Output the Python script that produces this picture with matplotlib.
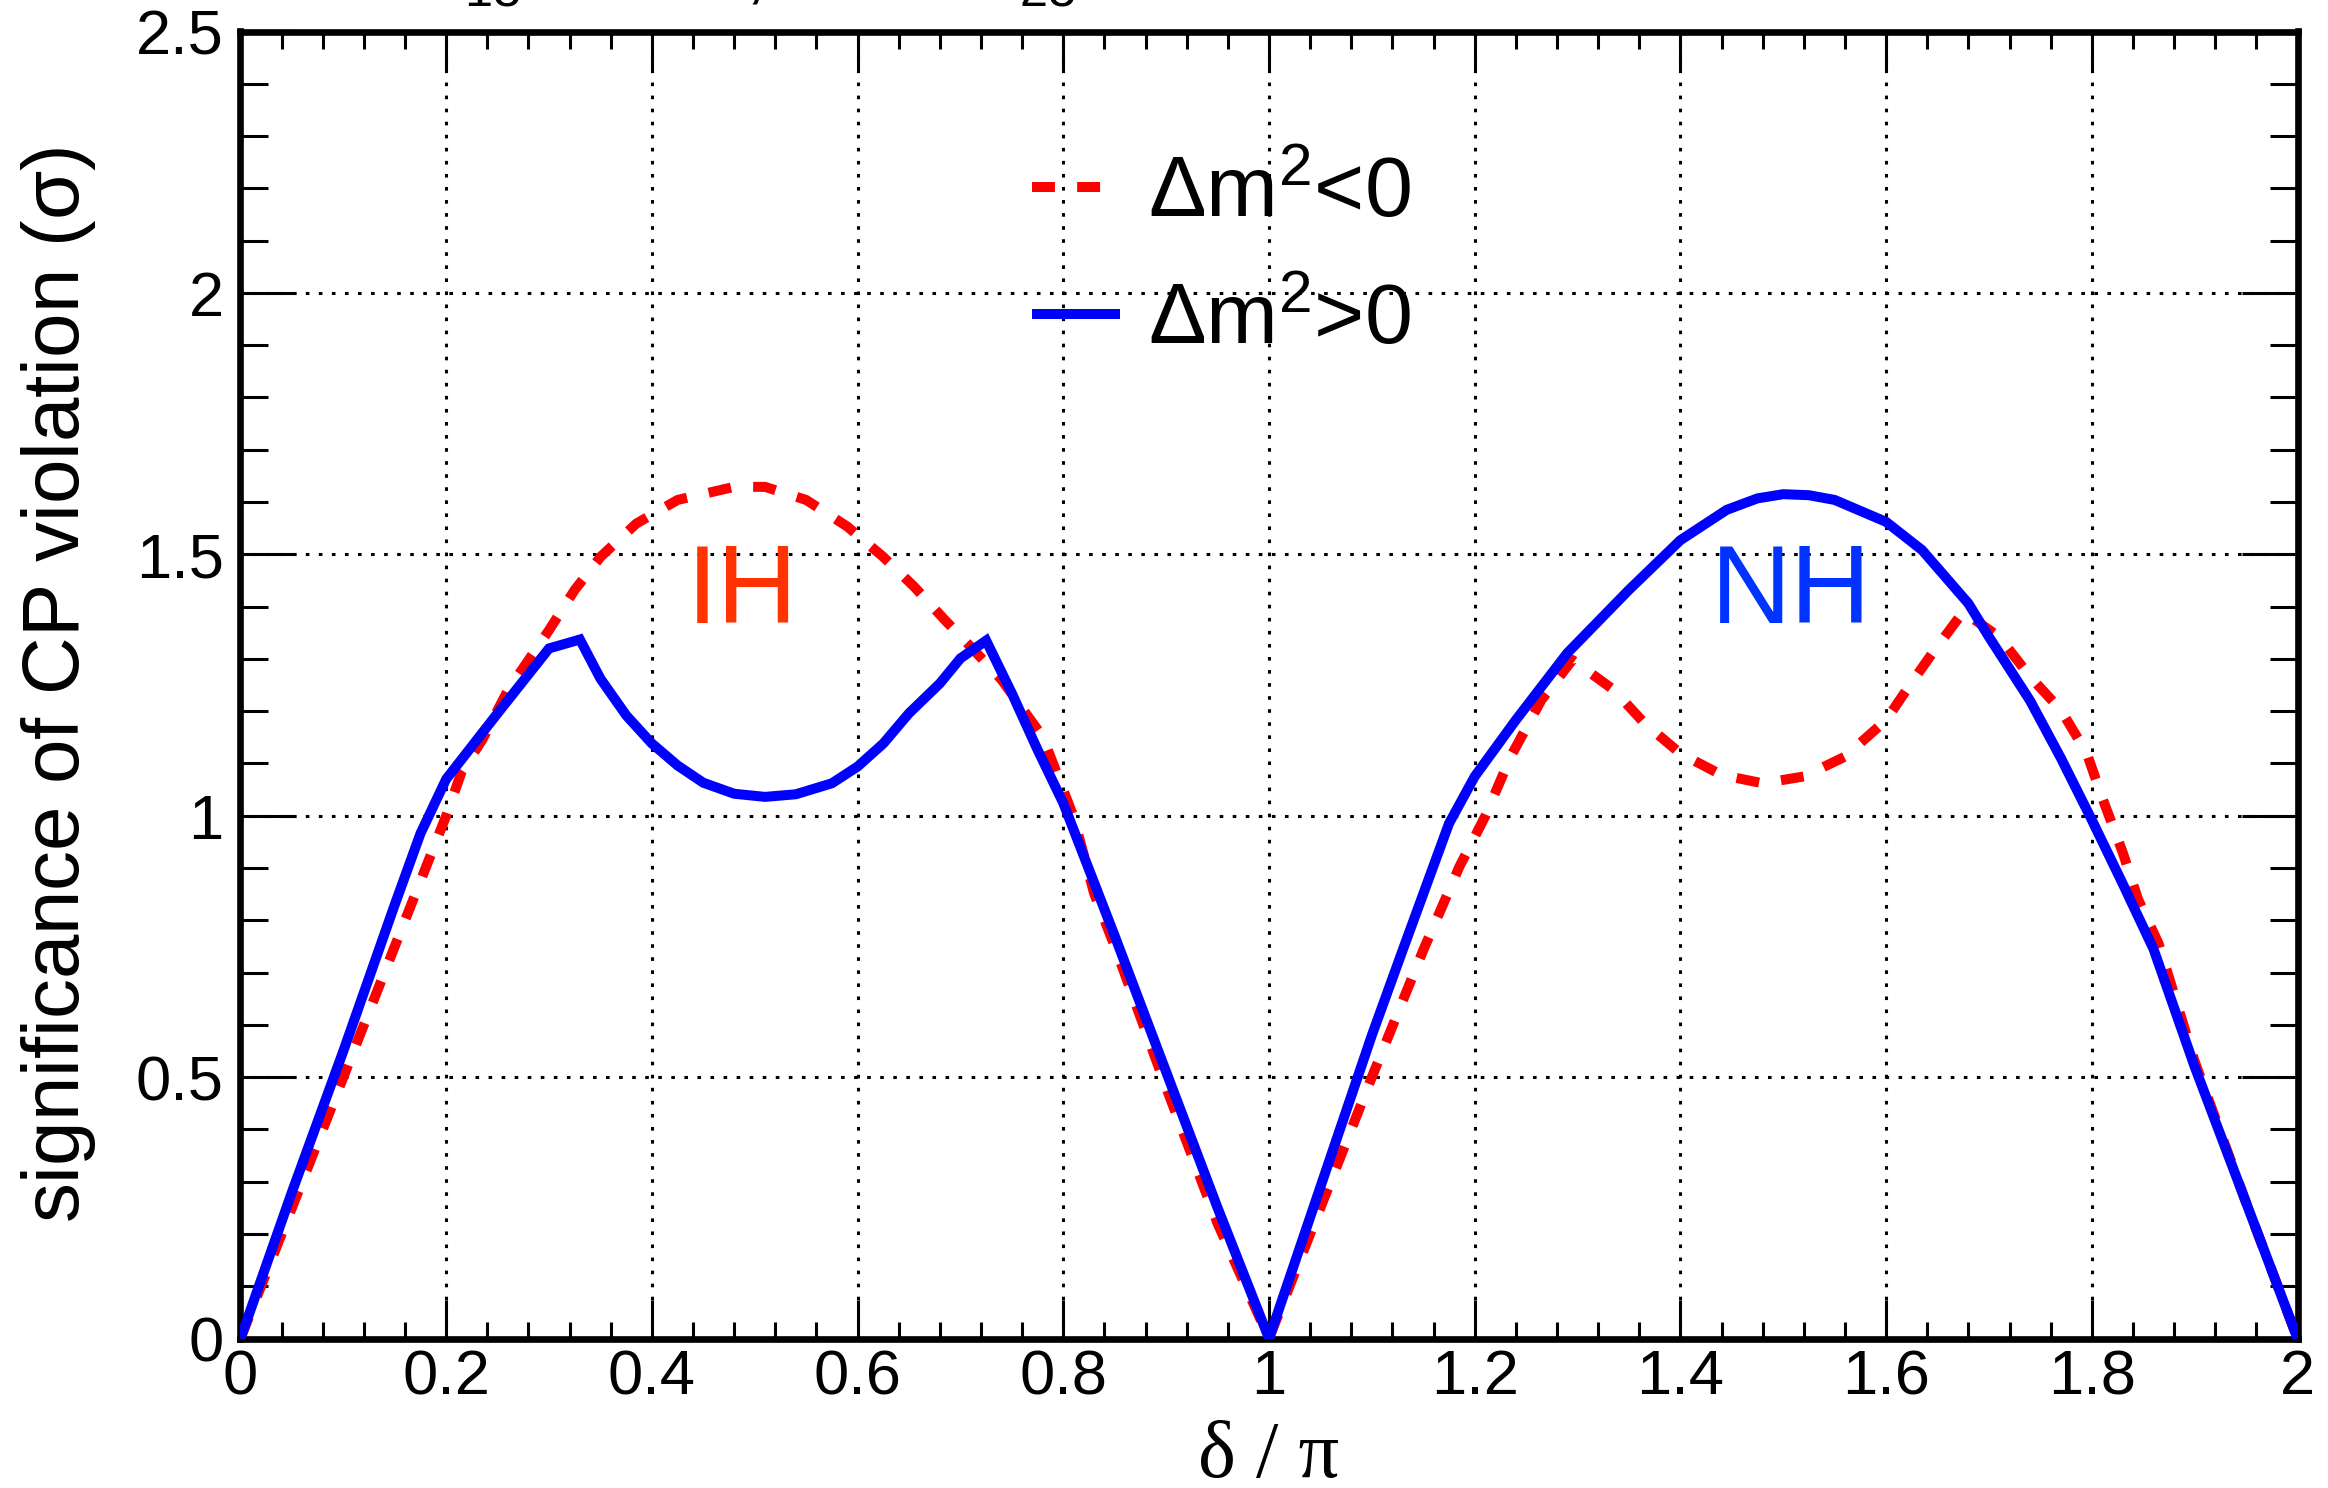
import matplotlib
matplotlib.use("Agg")
import matplotlib.pyplot as plt
from matplotlib.ticker import MultipleLocator, FuncFormatter

# ---------------- data ----------------
delta_pos = [0.00, 0.05, 0.10, 0.15, 0.175, 0.20, 0.25, 0.30, 0.33, 0.35, 0.375, 0.40,
             0.425, 0.45, 0.48, 0.51, 0.54, 0.575, 0.60, 0.625, 0.65, 0.68, 0.70, 0.725,
             0.75, 0.775, 0.80, 0.85, 0.90, 0.95, 1.00,
             1.05, 1.10, 1.13, 1.175, 1.20, 1.24, 1.29, 1.35, 1.40, 1.445, 1.475, 1.50, 1.525,
             1.55, 1.60, 1.635, 1.68, 1.70, 1.74, 1.77, 1.80, 1.83, 1.86, 1.90, 1.95, 2.00]
sig_pos = [0.00, 0.28, 0.55, 0.83, 0.966, 1.07, 1.196, 1.32, 1.337, 1.262, 1.192, 1.138,
           1.096, 1.063, 1.042, 1.036, 1.041, 1.062, 1.094, 1.138, 1.196, 1.253, 1.301, 1.335,
           1.234, 1.126, 1.024, 0.77, 0.51, 0.25, 0.00,
           0.29, 0.58, 0.743, 0.985, 1.075, 1.183, 1.311, 1.432, 1.527, 1.585, 1.607, 1.615,
           1.613, 1.604, 1.562, 1.508, 1.406, 1.342, 1.220, 1.110, 0.992, 0.870, 0.745,
           0.52, 0.26, 0.00]

delta_neg = [0.00, 0.05, 0.10, 0.15, 0.20, 0.215, 0.235, 0.26, 0.30, 0.325, 0.35, 0.385,
             0.425, 0.48, 0.51, 0.55, 0.59, 0.625, 0.655, 0.685, 0.71, 0.74, 0.78, 0.81,
             0.83, 0.85, 0.90, 0.95, 1.00,
             1.05, 1.10, 1.15, 1.185, 1.21, 1.235, 1.265, 1.295, 1.335, 1.365, 1.40, 1.44,
             1.48, 1.52, 1.56, 1.60, 1.62, 1.645, 1.675, 1.71, 1.74, 1.77, 1.795, 1.81,
             1.83, 1.845, 1.865, 1.90, 1.95, 2.00]
sig_neg = [0.00, 0.25, 0.50, 0.75, 1.00, 1.084, 1.145, 1.240, 1.355, 1.432, 1.495, 1.559,
           1.604, 1.629, 1.629, 1.604, 1.553, 1.495, 1.438, 1.374, 1.323, 1.260, 1.151, 0.998,
           0.851, 0.75, 0.48, 0.22, 0.00,
           0.25, 0.50, 0.743, 0.902, 0.998, 1.113, 1.222, 1.298, 1.241, 1.177, 1.119, 1.078,
           1.062, 1.075, 1.113, 1.183, 1.241, 1.311, 1.390, 1.342, 1.266, 1.202, 1.120, 1.035,
           0.930, 0.840, 0.755, 0.53, 0.26, 0.00]

label_neg = r"$\Delta$m$^{2}$<0"
label_pos = r"$\Delta$m$^{2}$>0"
ylabel = r"significance of CP violation ($\sigma$)"
xlabel = "\u03b4 / \u03c0"
title = r"$\sin^{2}2\theta_{13}$ = 0.10,  $\sin^{2}2\theta_{23}$ = 1.0"
hier_texts = [("IH", 0.488, "#FF3300"), ("NH", 1.508, "#0033FF")]

# ---------------- style ----------------
plt.rcParams["font.family"] = ["Liberation Sans", "DejaVu Sans"]
plt.rcParams["mathtext.fontset"] = "custom"
plt.rcParams["mathtext.rm"] = "Liberation Sans"
plt.rcParams["mathtext.it"] = "Liberation Sans"
plt.rcParams["mathtext.bf"] = "Liberation Sans:bold"
plt.rcParams["mathtext.sf"] = "Liberation Sans"
plt.rcParams["lines.scale_dashes"] = False

W, H = 2328, 1488
fig = plt.figure(figsize=(W / 100, H / 100), dpi=100)
ax_l, ax_r, ax_b, ax_t = 240.5 / W, 2297.5 / W, 1 - 1338.5 / H, 1 - 31.5 / H
ax = fig.add_axes([ax_l, ax_b, ax_r - ax_l, ax_t - ax_b])

ax.plot(delta_neg, sig_neg, color="#FF0000", lw=7.2, linestyle=(0, (16.5, 16)),
        label=label_neg, zorder=3, solid_capstyle="butt", dash_capstyle="butt")
ax.plot(delta_pos, sig_pos, color="#0000FF", lw=7.2, label=label_pos, zorder=4,
        solid_joinstyle="miter", solid_capstyle="butt")

ax.set_xlim(0, 2)
ax.set_ylim(0, 2.5)

ax.xaxis.set_major_locator(MultipleLocator(0.2))
ax.xaxis.set_minor_locator(MultipleLocator(0.04))
ax.yaxis.set_major_locator(MultipleLocator(0.5))
ax.yaxis.set_minor_locator(MultipleLocator(0.1))

def fmt(v, pos):
    return ("%.1f" % v).rstrip("0").rstrip(".")
ax.xaxis.set_major_formatter(FuncFormatter(fmt))
ax.yaxis.set_major_formatter(FuncFormatter(fmt))

ax.grid(True, which="major", color="black", lw=2.2, linestyle=(0, (2.6, 6.8)))
ax.set_axisbelow(True)

ax.tick_params(axis="both", which="both", direction="in", top=True, right=True,
               width=2.2, colors="black", labelsize=45.5)
ax.tick_params(axis="x", which="major", length=28, pad=7)
ax.tick_params(axis="x", which="minor", length=12.5)
ax.tick_params(axis="y", which="major", length=40, pad=12)
ax.tick_params(axis="y", which="minor", length=20)
for sp in ax.spines.values():
    sp.set_linewidth(4.8)

ax.set_ylabel(ylabel, fontsize=57.5, va="center")
ax.yaxis.set_label_coords((59 - 240.5) / 2057, 0.50)
ax.set_xlabel(xlabel, fontsize=58, family=["Liberation Serif", "DejaVu Serif"], va="baseline")
ax.xaxis.set_label_coords(0.5, (1338.5 - 1477) / 1307)

for txt, xpos, col in hier_texts:
    ax.text(xpos, 1.369, txt, color=col, fontsize=80, ha="center", va="baseline", zorder=5)

leg = ax.legend(loc="upper left", bbox_to_anchor=((1032 - 240.5) / 2057, (1338.5 - 155) / 1307),
                frameon=False, fontsize=62, handlelength=1.02, handletextpad=0.33,
                borderpad=0, borderaxespad=0, labelspacing=0.55)

fig.text(251 / W, 1 + 5 / H, title, fontsize=52, ha="left", va="baseline")

fig.savefig("out.png", dpi=100)
